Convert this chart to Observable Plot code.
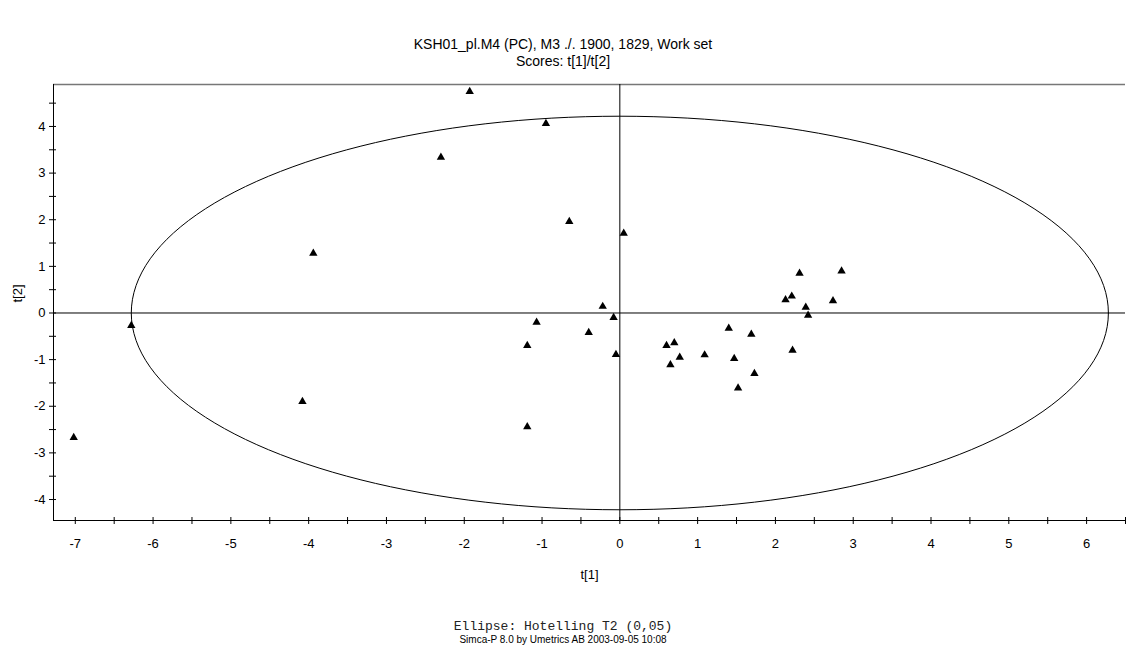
<!DOCTYPE html>
<html>
<head>
<meta charset="utf-8">
<script src="https://cdn.jsdelivr.net/npm/d3@7"></script>
<script src="https://cdn.jsdelivr.net/npm/@observablehq/plot@0.6"></script>
<style>
  html, body { margin: 0; padding: 0; background: #fff; }
  #wrap { position: relative; width: 1126px; height: 655px; font-family: "Liberation Sans", Arial, sans-serif; }
  #title { position: absolute; left: 0; top: 36px; width: 1126px; text-align: center; font-size: 14px; line-height: 17px; color: #000; }
  #chart { position: absolute; left: 0; top: 70px; }
  #foot1 { position: absolute; left: 0; top: 620px; width: 1126px; text-align: center; font-family: "Liberation Mono", "Courier New", monospace; font-size: 13px; line-height: 14px; color: #222; }
  #foot2 { position: absolute; left: 0; top: 634px; width: 1126px; text-align: center; font-size: 10px; line-height: 12px; color: #000; }
</style>
</head>
<body>
<div id="wrap">
  <div id="title">KSH01_pl.M4 (PC), M3 ./. 1900, 1829, Work set<br>Scores: t[1]/t[2]</div>
  <div id="chart"></div>
  <div id="foot1">Ellipse: Hotelling T2 (0,05)</div>
  <div id="foot2">Simca-P 8.0 by Umetrics AB 2003-09-05 10:08</div>
</div>
<script>
// Score values
const t1 = [-7.02, -6.28, -4.08, -3.94, -2.30, -1.93, -0.95, -1.19, -1.19, -1.07, -0.65, -0.40, -0.22, -0.08, -0.05, 0.05,
            0.60, 0.70, 0.65, 0.77, 1.09, 1.40, 1.47, 1.52, 1.69, 1.73, 2.13, 2.21, 2.31, 2.39, 2.42, 2.22, 2.74, 2.85];
const t2 = [-2.67, -0.27, -1.90, 1.28, 3.34, 4.75, 4.06, -0.70, -2.44, -0.20, 1.96, -0.42, 0.14, -0.10, -0.89, 1.71,
            -0.70, -0.64, -1.11, -0.95, -0.90, -0.33, -0.98, -1.61, -0.46, -1.30, 0.28, 0.36, 0.85, 0.12, -0.05, -0.80, 0.26, 0.90];
// Hotelling T2 ellipse semi-axes
const ellipseA = 6.28;
const ellipseB = 4.22;
// Axis ticks
const xTickLabels = [-7, -6, -5, -4, -3, -2, -1, 0, 1, 2, 3, 4, 5, 6];
const yTickLabels = [-4, -3, -2, -1, 0, 1, 2, 3, 4];

const points = t1.map((x, i) => ({x, y: t2[i]}));
const ellipse = d3.range(0, 361, 2).map(deg => {
  const a = deg * Math.PI / 180;
  return {x: ellipseA * Math.cos(a), y: ellipseB * Math.sin(a)};
});
const xMinor = d3.range(-7, 6.51, 0.5);
const yMinor = d3.range(-4, 4.51, 0.5);
const xDom = [-7.28, 6.5];
const yDom = [-4.45, 4.9];

const chart = Plot.plot({
  width: 1126,
  height: 530,
  marginLeft: 53,
  marginRight: 1,
  marginTop: 14,
  marginBottom: 80,
  style: {fontFamily: "'Liberation Sans', Arial, sans-serif", fontSize: "13px", color: "#000", background: "#fff"},
  x: {domain: xDom},
  y: {domain: yDom},
  marks: [
    Plot.ruleY([yDom[1]], {stroke: "#777", strokeWidth: 1.5}),
    Plot.ruleX([xDom[0]], {stroke: "#000"}),
    Plot.ruleY([yDom[0]], {stroke: "#000"}),
    Plot.ruleX([0], {stroke: "#000"}),
    Plot.ruleY([0], {stroke: "#000"}),
    Plot.line(ellipse, {x: "x", y: "y", stroke: "#000", strokeWidth: 1, curve: "linear"}),
    Plot.dot(points, {x: "x", y: "y", symbol: "triangle", fill: "#000", r: 3.1}),
    // ticks crossing the axis lines
    Plot.ruleX(xMinor, {y1: yDom[0], y2: yDom[0], insetTop: -3, insetBottom: -4, stroke: "#000"}),
    Plot.ruleY(yMinor, {x1: xDom[0], x2: xDom[0], insetLeft: -4, insetRight: -3, stroke: "#000"}),
    Plot.axisX({ticks: xTickLabels, tickSize: 0, tickPadding: 18, tickFormat: d => String(d), label: null, fontSize: 13}),
    Plot.axisY({ticks: yTickLabels, tickSize: 0, tickPadding: 8, tickFormat: d => String(d), label: null, fontSize: 13}),
    Plot.text(["t[1]"], {frameAnchor: "bottom", dy: 58, fontSize: 13}),
    Plot.text(["t[2]"], {frameAnchor: "left", dx: -36, rotate: -90, fontSize: 13})
  ]
});
document.getElementById("chart").appendChild(chart);
</script>
</body>
</html>
